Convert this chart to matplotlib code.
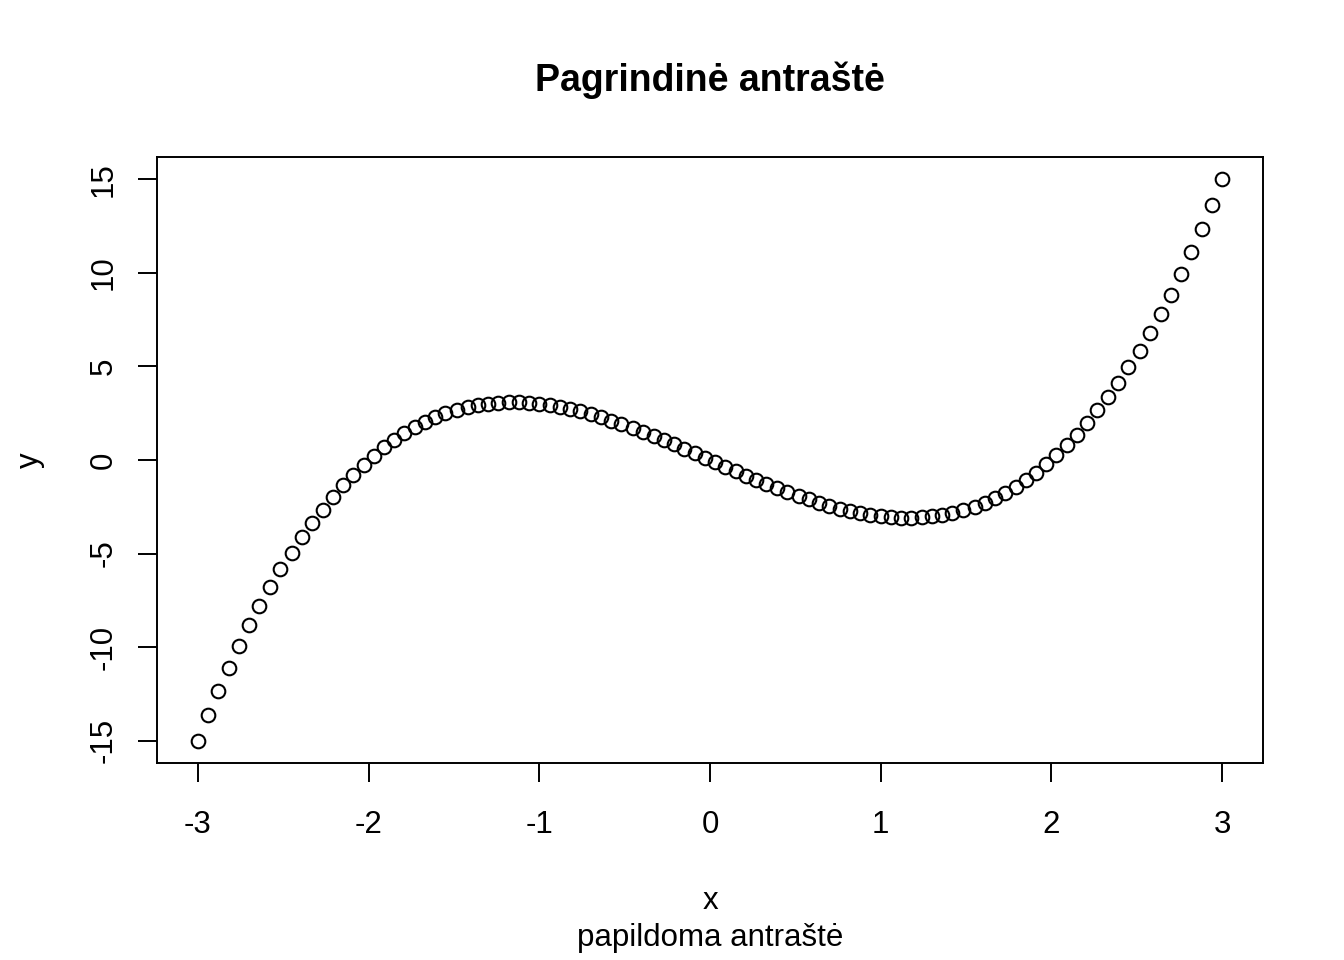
import matplotlib
matplotlib.use("Agg")
import matplotlib.pyplot as plt

plt.rcParams['font.family'] = ['Liberation Sans', 'DejaVu Sans']

# taškai (x, y) nuskaityti nuo paveikslėlio
x = [-3.00, -2.94, -2.88, -2.82, -2.76, -2.70, -2.64, -2.58, -2.52, -2.45,
     -2.39, -2.33, -2.27, -2.21, -2.15, -2.09, -2.03, -1.97, -1.91, -1.85,
     -1.79, -1.73, -1.67, -1.61, -1.55, -1.48, -1.42, -1.36, -1.30, -1.24,
     -1.18, -1.12, -1.06, -1.00, -0.94, -0.88, -0.82, -0.76, -0.70, -0.64,
     -0.58, -0.52, -0.45, -0.39, -0.33, -0.27, -0.21, -0.15, -0.09, -0.03,
     0.03, 0.09, 0.15, 0.21, 0.27, 0.33, 0.39, 0.45, 0.52, 0.58,
     0.64, 0.70, 0.76, 0.82, 0.88, 0.94, 1.00, 1.06, 1.12, 1.18,
     1.24, 1.30, 1.36, 1.42, 1.48, 1.55, 1.61, 1.67, 1.73, 1.79,
     1.85, 1.91, 1.97, 2.03, 2.09, 2.15, 2.21, 2.27, 2.33, 2.39,
     2.45, 2.52, 2.58, 2.64, 2.70, 2.76, 2.82, 2.88, 2.94, 3.00]

y = [-15.00, -13.64, -12.34, -11.11, -9.94, -8.83, -7.78, -6.79, -5.85, -4.97,
     -4.14, -3.37, -2.65, -1.98, -1.35, -0.78, -0.25, 0.24, 0.68, 1.08,
     1.44, 1.76, 2.04, 2.28, 2.49, 2.67, 2.81, 2.92, 3.00, 3.05,
     3.08, 3.08, 3.05, 3.00, 2.93, 2.84, 2.73, 2.60, 2.45, 2.29,
     2.11, 1.92, 1.72, 1.51, 1.30, 1.07, 0.84, 0.60, 0.36, 0.12,
     -0.12, -0.36, -0.60, -0.84, -1.07, -1.30, -1.51, -1.72, -1.92, -2.11,
     -2.29, -2.45, -2.60, -2.73, -2.84, -2.93, -3.00, -3.05, -3.08, -3.08,
     -3.05, -3.00, -2.92, -2.81, -2.67, -2.49, -2.28, -2.04, -1.76, -1.44,
     -1.08, -0.68, -0.24, 0.25, 0.78, 1.35, 1.98, 2.65, 3.37, 4.14,
     4.97, 5.85, 6.79, 7.78, 8.83, 9.94, 11.11, 12.34, 13.64, 15.00]

x_ticks = [-3, -2, -1, 0, 1, 2, 3]
y_ticks = [-15, -10, -5, 0, 5, 10, 15]

fig = plt.figure(figsize=(13.44, 9.6), dpi=100)
ax = fig.add_axes([157/1344, 1 - 763/960, (1263 - 157)/1344, (763 - 157)/960])

ax.plot(x, y, linestyle='none', marker='o', markersize=9.8,
        markerfacecolor='none', markeredgecolor='black', markeredgewidth=1.5)

ax.set_xlim(-3.24, 3.24)
ax.set_ylim(-16.2, 16.2)
ax.set_xticks(x_ticks)
ax.set_yticks(y_ticks)
ax.set_xticklabels([str(v) for v in x_ticks])
ax.set_yticklabels([str(v) for v in y_ticks], rotation=90, va='center')
ax.tick_params(direction='out', length=13.5, width=1.4, labelsize=22.5)
ax.tick_params(axis='x', pad=20)
ax.tick_params(axis='y', pad=14)
for s in ax.spines.values():
    s.set_linewidth(1.4)

fig.text(710/1344, 1 - 80/960, 'Pagrindinė antraštė', ha='center', va='center',
         fontsize=27, fontweight='bold')
fig.text(710/1344, 1 - 901/960, 'x', ha='center', va='center', fontsize=22.5)
fig.text(710/1344, 1 - 938/960, 'papildoma antraštė', ha='center', va='center', fontsize=22.5)
fig.text(30/1344, 1 - 460/960, 'y', ha='center', va='center', fontsize=22.5, rotation=90)

fig.savefig('out.png', dpi=100)
